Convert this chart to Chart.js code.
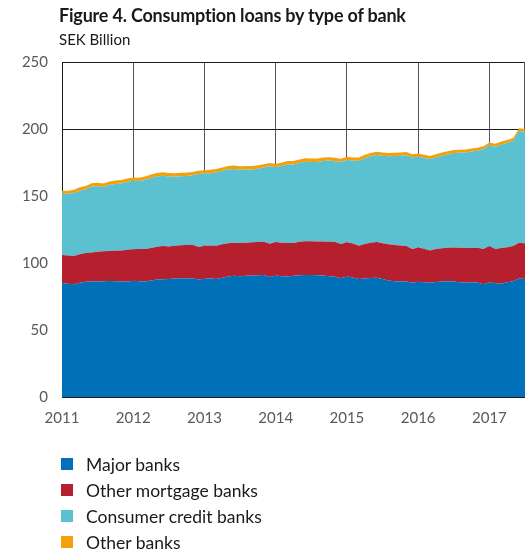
<!DOCTYPE html>
<html>
<head>
<meta charset="utf-8">
<script src="https://cdn.jsdelivr.net/npm/chart.js@4.4.1/dist/chart.umd.min.js"></script>
<style>
  html, body { margin: 0; padding: 0; background: #fff; }
  #wrap { position: relative; width: 526px; height: 551px; overflow: hidden; font-family: Lato, "Open Sans", sans-serif; color: #1a1a1a; }
  #title { position: absolute; left: 59px; top: 4px; font-weight: bold; font-size: 18px; letter-spacing: -0.2px; white-space: nowrap; }
  #subtitle { position: absolute; left: 59px; top: 30px; font-size: 15px; white-space: nowrap; }
  #chart { position: absolute; left: 0; top: 0; }
  #legend { position: absolute; left: 61px; top: 451px; margin: 0; padding: 0; list-style: none; font-size: 17.5px; }
  #legend li { height: 26px; display: flex; align-items: center; white-space: nowrap; }
  #legend span.sw { width: 12px; height: 12px; display: inline-block; margin-right: 13px; }
</style>
</head>
<body>
<div id="wrap">
  <canvas id="chart" width="526" height="551"></canvas>
  <div id="title">Figure 4. Consumption loans by type of bank</div>
  <div id="subtitle">SEK Billion</div>
  <ul id="legend"></ul>
</div>
<script>
// Monthly stock of consumption loans, SEK billion, Jan 2011 – Jul 2017
const years = ['2011', '2012', '2013', '2014', '2015', '2016', '2017'];
const monthNames = ['01','02','03','04','05','06','07','08','09','10','11','12'];

const majorBanks = [
  85.0, 84.6, 84.2, 85.3, 86.0, 86.2, 86.2, 86.4, 86.6, 86.4, 86.2, 86.0,
  86.8, 86.4, 86.2, 87.0, 87.6, 87.8, 88.0, 88.4, 88.6, 88.4, 88.6, 87.6,
  88.2, 88.4, 88.0, 89.0, 90.0, 90.4, 90.2, 90.4, 90.6, 90.8, 91.0, 89.6,
  90.6, 90.2, 90.0, 90.4, 90.8, 91.0, 91.0, 90.8, 90.6, 90.2, 89.8, 88.6,
  90.0, 89.2, 88.0, 88.4, 88.8, 89.0, 88.0, 87.0, 86.4, 86.2, 86.2, 85.2,
  86.0, 85.6, 85.2, 85.8, 86.2, 86.4, 86.2, 85.6, 85.4, 85.6, 85.4, 84.2,
  85.6, 84.8, 84.6, 85.6, 86.4, 88.4, 88.0
];
const otherMortgageBanks = [
  21.0, 21.0, 21.0, 21.3, 21.4, 21.6, 22.2, 22.4, 22.4, 22.8, 23.2, 23.8,
  23.4, 24.0, 24.2, 24.2, 24.6, 24.8, 24.4, 24.4, 24.6, 25.0, 25.0, 24.4,
  24.6, 24.6, 24.8, 25.0, 24.8, 24.8, 24.8, 24.8, 24.8, 24.8, 24.8, 24.8,
  25.0, 25.0, 25.0, 24.6, 25.0, 25.2, 25.2, 25.2, 25.4, 25.6, 25.8, 25.6,
  25.4, 25.4, 24.8, 25.8, 26.4, 26.6, 26.8, 27.0, 27.0, 26.8, 26.4, 25.2,
  25.6, 25.0, 24.2, 24.6, 24.8, 25.0, 25.4, 25.8, 25.8, 25.6, 26.0, 26.2,
  27.0, 25.6, 26.6, 26.2, 26.2, 26.8, 26.6
];
const consumerCreditBanks = [
  45.6, 46.0, 47.0, 47.4, 47.6, 49.2, 48.8, 48.0, 49.4, 49.8, 50.0, 50.8,
  51.2, 50.8, 51.6, 52.4, 52.4, 52.6, 52.2, 51.6, 51.6, 51.6, 51.8, 54.4,
  54.0, 54.0, 54.8, 54.8, 55.0, 55.0, 54.6, 54.6, 54.4, 54.8, 55.4, 57.8,
  56.0, 57.2, 58.6, 58.6, 58.8, 59.4, 59.2, 59.4, 60.2, 60.6, 60.4, 61.2,
  61.4, 61.8, 63.4, 64.0, 64.4, 65.0, 65.2, 65.6, 66.4, 67.0, 67.8, 68.4,
  67.8, 67.8, 68.2, 68.4, 69.0, 69.6, 70.4, 70.8, 71.2, 72.0, 72.4, 74.6,
  75.2, 76.4, 77.2, 77.8, 78.6, 83.4, 83.4
];
const otherBanks = [
  2.4, 2.4, 2.5, 2.5, 2.5, 2.6, 2.6, 2.5, 2.5, 2.5, 2.5, 2.4,
  2.4, 2.5, 2.5, 2.5, 2.6, 2.6, 2.6, 2.5, 2.5, 2.5, 2.5, 2.4,
  2.4, 2.5, 2.5, 2.5, 2.5, 2.6, 2.6, 2.6, 2.5, 2.5, 2.5, 2.4,
  2.4, 2.4, 2.5, 2.5, 2.6, 2.6, 2.6, 2.6, 2.5, 2.5, 2.5, 2.4,
  2.4, 2.4, 2.5, 2.5, 2.5, 2.5, 2.5, 2.5, 2.5, 2.4, 2.4, 2.3,
  2.3, 2.3, 2.3, 2.3, 2.4, 2.4, 2.4, 2.4, 2.3, 2.3, 2.3, 2.2,
  2.2, 2.2, 2.2, 2.1, 2.1, 2.0, 2.0
];

const seriesNames = ['Major banks', 'Other mortgage banks', 'Consumer credit banks', 'Other banks'];
const seriesColors = ['#0070b8', '#b51f2e', '#5bc1d0', '#f5a00a'];
const seriesValues = [majorBanks, otherMortgageBanks, consumerCreditBanks, otherBanks];

// Month labels "YYYY-MM" for each observation
const months = [];
for (const y of years) for (const m of monthNames) {
  if (months.length < majorBanks.length) months.push(y + '-' + m);
}

// Thin frame line on the right edge of the plot area
const frame = {
  id: 'frame',
  beforeDatasetsDraw(chart) {
    const { ctx, chartArea: a } = chart;
    ctx.save();
    ctx.strokeStyle = '#555';
    ctx.lineWidth = 1;
    ctx.beginPath();
    ctx.moveTo(a.right - 0.5, a.top);
    ctx.lineTo(a.right - 0.5, a.bottom);
    ctx.stroke();
    ctx.restore();
  }
};

const chart = new Chart(document.getElementById('chart'), {
  type: 'line',
  data: {
    labels: months,
    datasets: seriesNames.map((name, i) => ({
      label: name,
      data: seriesValues[i],
      backgroundColor: seriesColors[i],
      borderColor: seriesColors[i],
      borderWidth: 0,
      pointRadius: 0,
      tension: 0,
      fill: i === 0 ? 'origin' : '-1'
    }))
  },
  options: {
    responsive: false,
    animation: false,
    layout: { padding: { left: 0, right: 1, top: 62, bottom: 114 } },
    plugins: { legend: { display: false }, tooltip: { enabled: false } },
    scales: {
      x: {
        offset: false,
        grid: { color: '#555', lineWidth: 1, drawTicks: false },
        border: { display: false },
        ticks: {
          autoSkip: false,
          maxRotation: 0,
          padding: 12,
          color: '#595959',
          font: { family: 'Lato', size: 15 },
          callback(value) {
            const l = this.getLabelForValue(value);
            return l.endsWith('-01') ? l.slice(0, 4) : null;
          }
        },
        afterFit(scale) { scale.height = 40; }
      },
      y: {
        stacked: true,
        min: 0,
        max: 250,
        grid: { color: '#1a1a1a', lineWidth: 1, drawTicks: false },
        border: { display: true, color: '#1a1a1a', width: 1 },
        ticks: {
          stepSize: 50,
          padding: 14,
          color: '#595959',
          font: { family: 'Lato', size: 15 }
        },
        afterFit(scale) { scale.width = 62; }
      }
    }
  },
  plugins: [frame]
});

// Legend listing the series top-down
const legend = document.getElementById('legend');
seriesNames.forEach((name, i) => {
  const li = document.createElement('li');
  const sw = document.createElement('span');
  sw.className = 'sw';
  sw.style.background = seriesColors[i];
  li.appendChild(sw);
  li.appendChild(document.createTextNode(name));
  legend.appendChild(li);
});
</script>
</body>
</html>
